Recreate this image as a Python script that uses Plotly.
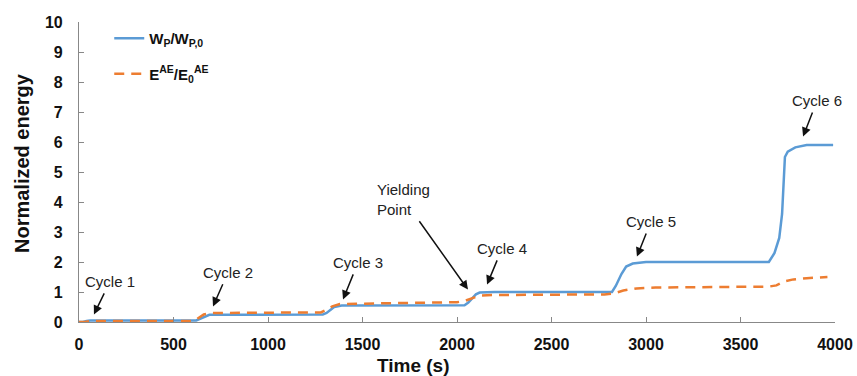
import plotly.graph_objects as go

# Blue series: W_P / W_P,0
wp_time = [0, 20, 40, 60, 620, 640, 670, 690, 1290, 1310, 1350, 1390, 2040, 2060, 2100, 2120,
           2200, 2820, 2840, 2870, 2895, 2930, 3000, 3650, 3680, 3705, 3720, 3728, 3735, 3750,
           3790, 3850, 3990]
wp_vals = [0, 0, 0.03, 0.05, 0.05, 0.1, 0.2, 0.24, 0.25, 0.3, 0.5, 0.55, 0.56, 0.65, 0.92, 0.98,
           1.0, 1.0, 1.2, 1.6, 1.85, 1.95, 2.0, 2.0, 2.3, 2.8, 3.6, 4.8, 5.5, 5.68,
           5.82, 5.9, 5.9]

# Orange series: E^AE / E0^AE
ae_time = [0, 30, 60, 600, 620, 660, 700, 1280, 1300, 1340, 1380, 1700, 2000, 2040, 2080, 2120,
           2200, 2780, 2830, 2880, 2950, 3050, 3650, 3690, 3730, 3780, 3850, 3960]
ae_vals = [0, 0, 0.03, 0.03, 0.08, 0.25, 0.3, 0.32, 0.38, 0.52, 0.6, 0.62, 0.66, 0.7, 0.8, 0.88,
           0.9, 0.92, 0.95, 1.05, 1.12, 1.15, 1.18, 1.22, 1.35, 1.42, 1.46, 1.5]

x_ticks = [0, 500, 1000, 1500, 2000, 2500, 3000, 3500, 4000]
y_ticks = list(range(0, 11))

# Annotations: (label, tip_x, tip_y, offset_x_px, offset_y_px)
labels = ["Cycle 1", "Cycle 2", "Cycle 3", "Yielding<br>Point", "Cycle 4", "Cycle 5", "Cycle 6"]
tip_x = [79, 709, 1397, 2058, 2159, 2952, 3831]
tip_y = [0.25, 0.52, 0.75, 1.08, 1.25, 2.18, 6.18]
off_x = [16, 15, 15, -64, 15, 14, 14]
off_y = [-33, -34, -37, -90, -36, -35, -36]

FONT = "Arial, Liberation Sans, sans-serif"

fig = go.Figure()
fig.add_trace(go.Scatter(
    x=wp_time, y=wp_vals, mode="lines", name="<b>W<sub>P</sub>/W<sub>P,0</sub></b>",
    line=dict(color="#5B9BD5", width=2.5), legendgroup="a"))
fig.add_trace(go.Scatter(
    x=ae_time, y=ae_vals, mode="lines", name="<b>E<sup>AE</sup>/E<sub>0</sub><sup>AE</sup></b>",
    line=dict(color="#ED7D31", width=2.5, dash="10px,7px"), legendgroup="b"))

annots = []
for lab, tx, ty, ox, oy in zip(labels, tip_x, tip_y, off_x, off_y):
    annots.append(dict(
        x=tx, y=ty, xref="x", yref="y", text=lab, showarrow=True,
        ax=ox, ay=oy, arrowhead=2, arrowsize=1.2, arrowwidth=1.5, arrowcolor="#111111",
        font=dict(family=FONT, size=15, color="#222222"),
        align="left", standoff=0, startstandoff=2))

annots.append(dict(
    x=(413 - 79) / 756, y=-0.145, xref="paper", yref="paper", text="<b>Time (s)</b>",
    showarrow=False, xanchor="center", yanchor="middle",
    font=dict(family=FONT, size=19, color="#111111")))

annots.append(dict(
    x=-(79 - 22) / 756, y=(322 - 163) / 300, xref="paper", yref="paper",
    text="<b>Normalized energy</b>", showarrow=False, textangle=-90,
    xanchor="center", yanchor="middle",
    font=dict(family=FONT, size=20, color="#111111")))

fig.update_layout(
    width=857, height=376,
    margin=dict(l=79, r=22, t=22, b=54, autoexpand=False),
    plot_bgcolor="white", paper_bgcolor="white",
    showlegend=True,
    legend=dict(x=0.04, y=1.0, xanchor="left", yanchor="top",
                bgcolor="rgba(0,0,0,0)", traceorder="grouped", tracegroupgap=13,
                font=dict(family=FONT, size=15, color="#111111"),
                itemwidth=30),
    annotations=annots,
    font=dict(family=FONT),
)

fig.update_xaxes(
    range=[0, 4000], tickvals=x_ticks, ticktext=[f"<b>{v}</b>" for v in x_ticks],
    showgrid=False, zeroline=False, showline=True, linecolor="#888888", linewidth=1.2,
    ticks="inside", ticklen=5, tickcolor="#888888", automargin=False,
    tickfont=dict(family=FONT, size=16, color="#111111"),
    ticklabelstandoff=8)

fig.update_yaxes(
    range=[0, 10], tickvals=y_ticks, ticktext=[f"<b>{v}</b>" for v in y_ticks],
    showgrid=False, zeroline=False, showline=True, linecolor="#888888", linewidth=1.2,
    ticks="inside", ticklen=5, tickcolor="#888888", automargin=False,
    tickfont=dict(family=FONT, size=16, color="#111111"),
    ticklabelstandoff=12)

fig.write_html("out.html")
